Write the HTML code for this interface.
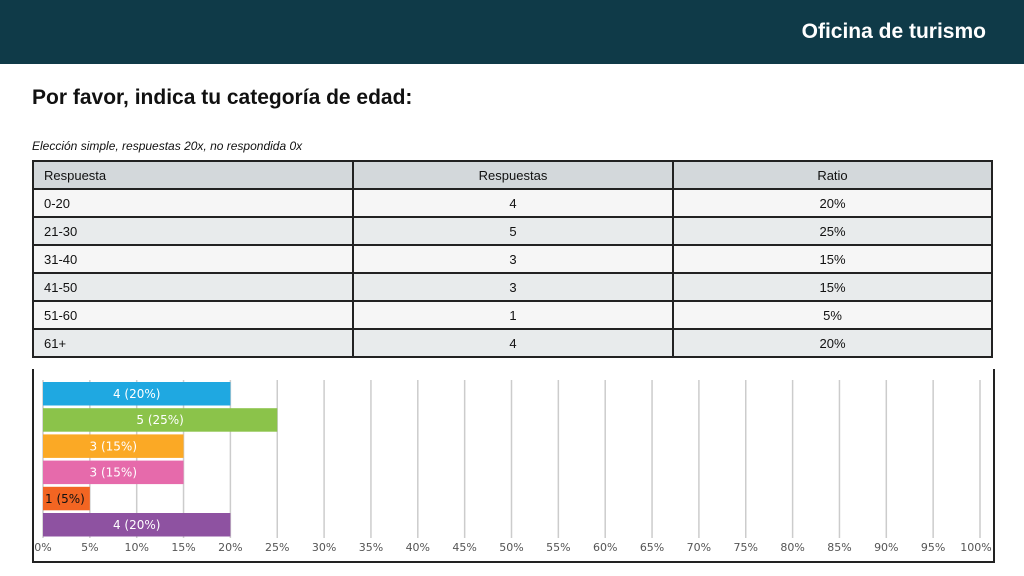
<!DOCTYPE html>
<html><head><meta charset="utf-8"><style>
body{margin:0;width:1024px;height:576px;background:#fff;position:relative;overflow:hidden;font-family:"Liberation Sans",sans-serif}
#hdr{position:absolute;left:0;top:0;width:1024px;height:64px;background:#0f3a48}
#hdr span{position:absolute;right:38px;top:20px;color:#fff;font-weight:bold;font-size:21px}
#title{position:absolute;left:32px;top:86px;font-size:21px;font-weight:bold;color:#111}
#sub{position:absolute;left:32px;top:139px;font-size:12px;font-style:italic;color:#111}
table{position:absolute;left:32px;top:160px;border-collapse:collapse;width:961px}
td{border:2px solid #222;height:26px;font-size:13px;color:#111;padding:0;text-align:center}
td:first-child{text-align:left;padding-left:10px;width:308px}
td:nth-child(2){width:318px}
tr.h td{background:#d3d8db}
tr.a td{background:#f6f6f6}
tr.b td{background:#e8ebec}
#chart{position:absolute;left:32px;top:369px;width:959px;height:192px;border:2px solid #222;border-top:none}
</style></head><body>
<div id="hdr"><span>Oficina de turismo</span></div>
<div id="title">Por favor, indica tu categoría de edad:</div>
<div id="sub">Elección simple, respuestas 20x, no respondida 0x</div>
<table>
<tr class="h"><td>Respuesta</td><td>Respuestas</td><td>Ratio</td></tr>
<tr class="a"><td>0-20</td><td>4</td><td>20%</td></tr>
<tr class="b"><td>21-30</td><td>5</td><td>25%</td></tr>
<tr class="a"><td>31-40</td><td>3</td><td>15%</td></tr>
<tr class="b"><td>41-50</td><td>3</td><td>15%</td></tr>
<tr class="a"><td>51-60</td><td>1</td><td>5%</td></tr>
<tr class="b"><td>61+</td><td>4</td><td>20%</td></tr>
</table>
<div id="chart">
<svg id="svg" width="959" height="192" xmlns="http://www.w3.org/2000/svg" style="font-family:'DejaVu Sans',sans-serif"></svg>
</div>
<script>
const categories=["0-20","21-30","31-40","41-50","51-60","61+"];
const counts=[4,5,3,3,1,4];
const percents=[20,25,15,15,5,20];
const colors=["#1fa8e1","#8bc34a","#fba925","#e66aab","#f26522","#8e52a1"];
const ticks=[0,5,10,15,20,25,30,35,40,45,50,55,60,65,70,75,80,85,90,95,100];
const svg=document.getElementById('svg');
const NS="http://www.w3.org/2000/svg";
const x=v=>9+v*9.37;
const y=i=>13+i*26.2;
function mk(t,a){const e=document.createElementNS(NS,t);for(const k in a)e.setAttribute(k,a[k]);svg.appendChild(e);return e;}
ticks.forEach(t=>{
 const l=mk('line',{x1:x(t),x2:x(t),y1:11,y2:169,stroke:'#ccc','stroke-width':1.5});
 
 
 const tx=mk('text',{x:Math.min(x(t),942),y:182,'text-anchor':'middle','font-size':11,fill:'#555'});
 tx.textContent=t+'%';
 
 
});
categories.forEach((c,i)=>{
 const r=mk('rect',{x:x(0),y:y(i),width:x(percents[i])-x(0),height:23.5,fill:colors[i]});
 
 
 const small=percents[i]<10;
 const tx=mk('text',{x:small?x(0)+2:(x(0)+x(percents[i]))/2,y:y(i)+16,'text-anchor':small?'start':'middle','font-size':12,fill:small?'#111':'#fff'});
 tx.textContent=counts[i]+' ('+percents[i]+'%)';
 
 
});
</script>
</body></html>
